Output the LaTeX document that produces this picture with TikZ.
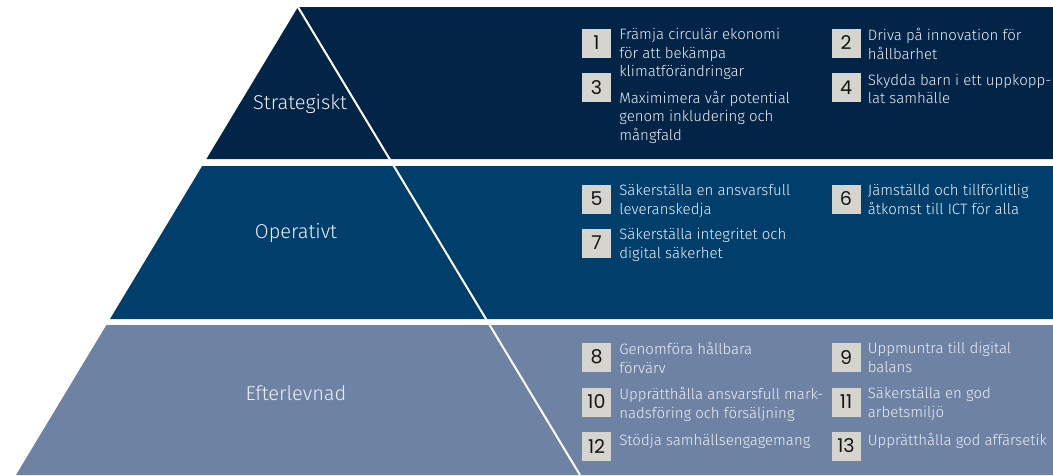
\documentclass[tikz,border=0pt]{standalone}
\usepackage{fontspec}
\setmainfont{Fira Sans}[UprightFont=* Light]
\newfontfamily\numfont{Poppins}
\usetikzlibrary{positioning}
\definecolor{cstrat}{RGB}{2,36,71}
\definecolor{coper}{RGB}{0,63,108}
\definecolor{cefter}{RGB}{110,130,164}
\definecolor{cnum}{RGB}{214,212,206}
\definecolor{ctxt}{RGB}{236,239,243}
\tikzset{
  sep/.style={white,line width=2pt},
  level/.style={text=ctxt,font=\fontsize{20}{24}\selectfont,inner sep=0pt},
  numbox/.style={rectangle,fill=cnum,draw=none,minimum width=29pt,
    minimum height=29pt,inner sep=0pt,text=black!92,
    font=\numfont\fontsize{19}{19}\selectfont},
  % first line gets a fixed height, so north = baseline - 14pt
  goaltext/.style={text=ctxt,font=\fontsize{15}{18.5}\selectfont,
    align=left,inner sep=0pt,anchor=north west,
    execute at begin node={\rule{0pt}{14pt}}}
}

\begin{document}
\begin{tikzpicture}[x=1pt,y=-1pt]
\useasboundingbox (0,0) rectangle (1053,475);
% ---------- bands ----------
\fill[cstrat] (298,7) -- (1053,7) -- (1053,159) -- (206.4,159) -- cycle;
\fill[coper] (202.2,166) -- (1053,166) -- (1053,319) -- (110,319) -- cycle;
\fill[cefter] (106.4,325) -- (1053,325) -- (1053,475) -- (16,475) -- cycle;
\coordinate (apex) at (298,7);
\coordinate (baseR) at (580,475);
\draw[sep] (apex) -- (baseR);
% ---------- levels ----------
\node[level] (strat) at (300,104) {Strategiskt};
\node[level] (oper) at (296,233) {Operativt};
\node[level] (efter) at (296,393) {Efterlevnad};
% ---------- numbers ----------
\foreach \i/\x/\y in {1/596.5/43,2/846/43,3/596.5/87.5,4/846/87.5,
  5/596.5/199,6/846/199,7/596.5/243,
  8/596.5/357,9/846/357,10/596.5/402,11/846/402,12/596.5/446,13/846/446}
  {\node[numbox] (n\i) at (\x,\y) {\i};}
% ---------- goals ----------
\node[goaltext] (t1) at ([xshift=8pt,yshift=0pt]n1.north east)
  {Främja circulär ekonomi\\för att bekämpa\\klimatförändringar};
\node[goaltext] (t2) at ([xshift=7pt,yshift=0pt]n2.north east)
  {Driva på innovation för\\hållbarhet};
\node[goaltext] (t3) at ([xshift=8pt,yshift=-18pt]n3.north east)
  {Maximimera vår potential\\genom inkludering och\\mångfald};
\node[goaltext] (t4) at ([xshift=7pt,yshift=-1pt]n4.north east)
  {Skydda barn i ett uppkopp-\\lat samhälle};
\node[goaltext] (t5) at ([xshift=8pt,yshift=0pt]n5.north east)
  {Säkerställa en ansvarsfull\\leveranskedja};
\node[goaltext] (t6) at ([xshift=7pt,yshift=0pt]n6.north east)
  {Jämställd och tillförlitlig\\åtkomst till ICT för alla};
\node[goaltext] (t7) at ([xshift=8pt,yshift=0pt]n7.north east)
  {Säkerställa integritet och\\digital säkerhet};
\node[goaltext] (t8) at ([xshift=8pt,yshift=0pt]n8.north east)
  {Genomföra hållbara\\förvärv};
\node[goaltext] (t9) at ([xshift=7pt,yshift=0pt]n9.north east)
  {Uppmuntra till digital\\balans};
\node[goaltext] (t10) at ([xshift=8pt,yshift=0pt]n10.north east)
  {Upprätthålla ansvarsfull mark-\\nadsföring och försäljning};
\node[goaltext] (t11) at ([xshift=7pt,yshift=0pt]n11.north east)
  {Säkerställa en god\\arbetsmiljö};
\node[goaltext] (t12) at ([xshift=8pt,yshift=0pt]n12.north east)
  {Stödja samhällsengagemang};
\node[goaltext] (t13) at ([xshift=7pt,yshift=0pt]n13.north east)
  {Upprätthålla god affärsetik};
\end{tikzpicture}
\end{document}
